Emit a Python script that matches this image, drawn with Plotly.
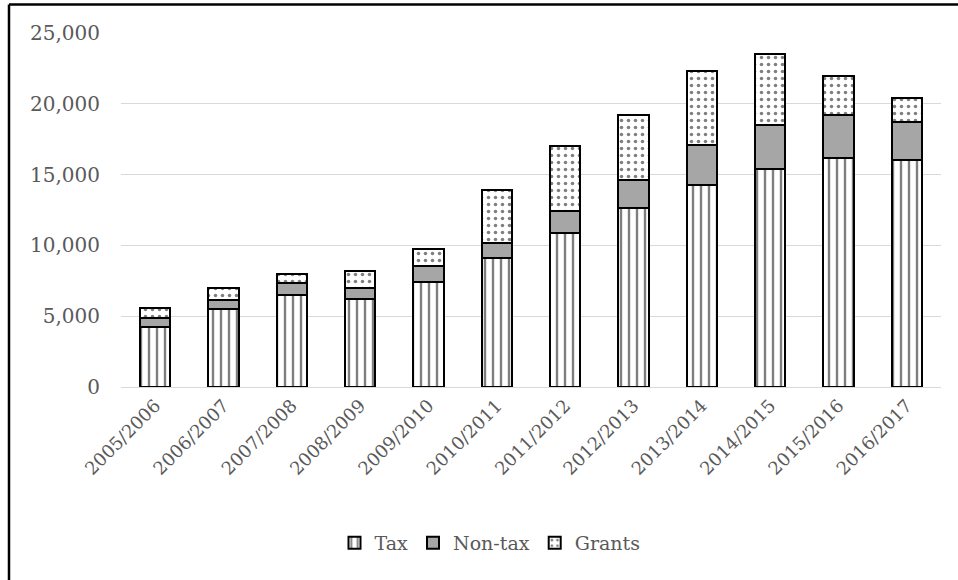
import plotly.graph_objects as go

# Fiscal years
years = ["2005/2006", "2006/2007", "2007/2008", "2008/2009", "2009/2010", "2010/2011",
         "2011/2012", "2012/2013", "2013/2014", "2014/2015", "2015/2016", "2016/2017"]

# Revenue components
tax = [4250, 5500, 6500, 6200, 7450, 9100, 10900, 12650, 14250, 15400, 16150, 16050]
non_tax = [650, 650, 850, 800, 1100, 1050, 1550, 1950, 2850, 3100, 3050, 2650]
grants = [680, 840, 600, 1215, 1200, 3770, 4550, 4600, 5230, 5020, 2790, 1730]

y_ticks = [0, 5000, 10000, 15000, 20000, 25000]
y_tick_text = ["0", "5,000", "10,000", "15,000", "20,000", "25,000"]

FONT = "DejaVu Serif"
TEXT_GRAY = "#595959"
OUTLINE = dict(color="black", width=2)

fig = go.Figure()
fig.add_trace(go.Bar(
    name="Tax", x=years, y=tax,
    marker=dict(color="white", line=OUTLINE,
                pattern=dict(shape="|", fgcolor="black", bgcolor="white",
                             size=8, solidity=0.3)),
))
fig.add_trace(go.Bar(
    name="Non-tax", x=years, y=non_tax,
    marker=dict(color="#a6a6a6", line=OUTLINE),
))
fig.add_trace(go.Bar(
    name="Grants", x=years, y=grants,
    marker=dict(color="white", line=OUTLINE,
                pattern=dict(shape=".", fgcolor="black", bgcolor="white",
                             size=7, solidity=0.2)),
))

L, R, T, B = 121, 17, 33, 193
W, H = 958, 580
pw, ph = W - L - R, H - T - B


def px_x(p):
    return (p - L) / pw


def px_y(p):
    return (H - B - p) / ph


fig.update_layout(
    width=W, height=H,
    margin=dict(l=L, r=R, t=T, b=B, pad=0),
    barmode="stack",
    bargap=0.56,
    paper_bgcolor="white",
    plot_bgcolor="white",
    font=dict(family=FONT, size=20, color=TEXT_GRAY),
    showlegend=True,
    legend=dict(orientation="h", x=px_x(490), xanchor="center",
                y=px_y(543), yanchor="middle",
                font=dict(family=FONT, size=19, color=TEXT_GRAY),
                itemwidth=30, traceorder="normal"),
    xaxis=dict(tickangle=-45, showgrid=False, showline=True,
               linecolor="#d9d9d9", linewidth=1, ticks="",
               tickfont=dict(family=FONT, size=18, color=TEXT_GRAY)),
    yaxis=dict(range=[0, 25000], tickvals=y_ticks, ticktext=y_tick_text,
               showgrid=True, gridcolor="#d9d9d9", gridwidth=1,
               zeroline=False, showline=False, ticks="",
               ticklabelstandoff=20,
               tickfont=dict(family=FONT, size=20, color=TEXT_GRAY)),
    shapes=[
        dict(type="line", xref="paper", yref="paper",
             x0=px_x(9), x1=px_x(962), y0=px_y(4.5), y1=px_y(4.5),
             line=dict(color="black", width=2.5)),
        dict(type="line", xref="paper", yref="paper",
             x0=px_x(9), x1=px_x(9), y0=px_y(4.5), y1=px_y(585),
             line=dict(color="black", width=2.5)),
    ],
)

fig.write_html("out.html")
